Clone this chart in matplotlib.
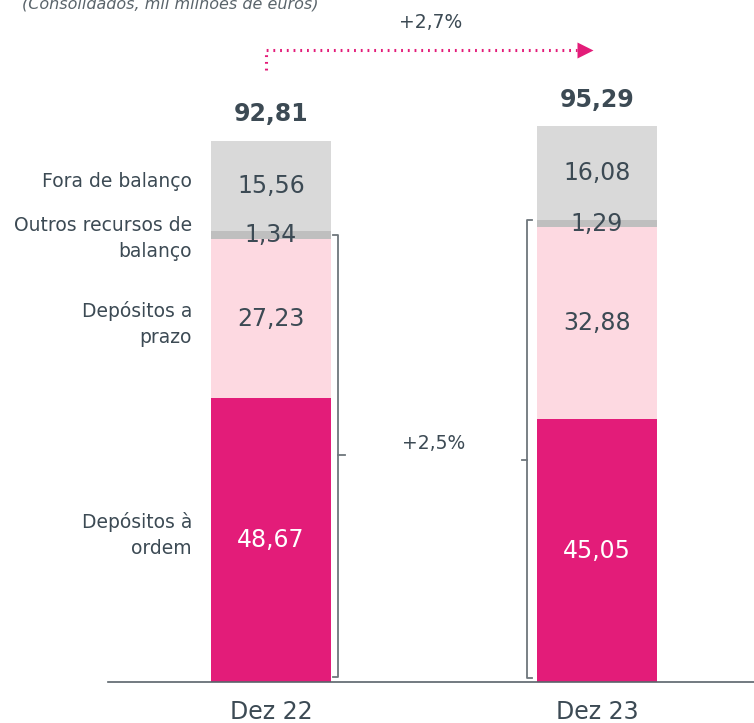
import matplotlib.pyplot as plt
import numpy as np

# data (mil milhões de euros)
periods = ['Dez 22', 'Dez 23']
dep_ordem = [48.67, 45.05]
dep_prazo = [27.23, 32.88]
outros = [1.34, 1.29]
fora = [15.56, 16.08]
totals = ['92,81', '95,29']
growth_total = '+2,7%'
growth_balanco = '+2,5%'

series = [
    ('Depósitos à\nordem', dep_ordem, '#E31C79', 'white'),
    ('Depósitos a\nprazo', dep_prazo, '#FDD9E1', '#3C4A54'),
    ('Outros recursos de\nbalanço', outros, '#BFBFBF', '#3C4A54'),
    ('Fora de balanço', fora, '#D9D9D9', '#3C4A54'),
]

txt = '#3C4A54'
W, H = 754, 723
fig = plt.figure(figsize=(W / 100, H / 100), dpi=100)
ax = fig.add_axes([108 / W, 41 / H, 646 / W, 682 / H])
ax.set_xlim(-0.5, 1 + 157 / 326)
ax.set_ylim(0, 682 / 5.835)
for s in ['top', 'right', 'left']:
    ax.spines[s].set_visible(False)
ax.spines['bottom'].set_color('#5A646B')
ax.spines['bottom'].set_linewidth(1.2)
ax.set_yticks([])
ax.set_xticks([])

x = np.arange(len(periods))
bw = 120 / 326
bottom = np.zeros(len(periods))
label_y = {}
for name, vals, col, tcol in series:
    vals = np.array(vals)
    ax.bar(x, vals, bw, bottom=bottom, color=col, edgecolor='none', zorder=2)
    for i, v in enumerate(vals):
        ax.text(x[i], bottom[i] + v / 2, f'{v:.2f}'.replace('.', ','),
                ha='center', va='center', fontsize=17, color=tcol, zorder=3)
    label_y[name] = bottom[0] + vals[0] / 2
    bottom = bottom + vals

# category labels on the left of the first bar
offs = {'Fora de balanço': 0.8, 'Outros recursos de\nbalanço': -0.5,
        'Depósitos a\nprazo': -0.9, 'Depósitos à\nordem': 0.9}
lx = x[0] - bw / 2 - 19 / 326
for name, vals, col, tcol in series:
    ax.text(lx, label_y[name] + offs[name], name, ha='right', va='center',
            fontsize=13.5, color=txt, linespacing=1.45, clip_on=False)

# totals
for i, t in enumerate(totals):
    ax.text(x[i], bottom[i] + 4.5, t, ha='center', va='center', fontsize=17,
            fontweight='bold', color=txt)

# x labels
for i, p in enumerate(periods):
    ax.text(x[i], -5.1, p, ha='center', va='center', fontsize=17, color=txt, clip_on=False)

# brackets (balance resources)
bc = '#6E767C'
b1_top = dep_ordem[0] + dep_prazo[0] + outros[0] / 2
b2_top = dep_ordem[1] + dep_prazo[1] + outros[1]
bx1 = x[0] + bw / 2 + 7 / 326
bx2 = x[1] - bw / 2 - 10 / 326
tk = 5 / 326
ax.plot([bx1 - tk, bx1, bx1, bx1 - tk], [b1_top, b1_top, 0.9, 0.9], color=bc, lw=1.3)
ax.plot([bx1, bx1 + tk * 1.3], [b1_top / 2 + 0.6, b1_top / 2 + 0.6], color=bc, lw=1.3)
ax.plot([bx2 + tk, bx2, bx2, bx2 + tk], [b2_top, b2_top, 0.6, 0.6], color=bc, lw=1.3)
ax.plot([bx2, bx2 - tk], [b2_top / 2 - 1.6, b2_top / 2 - 1.6], color=bc, lw=1.3)
ax.text(0.5, 40.8, growth_balanco, ha='center', va='center', fontsize=13.5, color=txt)

# dotted arrow on top
ay = 682 / 5.835 - 50 / 5.835
ax.plot([x[0] - 5 / 326, x[0] - 5 / 326, x[1] - 20 / 326], [ay - 3.4, ay, ay],
        color='#E31C79', lw=2.2, ls=(0, (0.6, 1.6)), clip_on=False)
ax.plot([x[1] - 12 / 326], [ay], marker='>', ms=12, color='#E31C79', mec='none',
        clip_on=False)
ax.text(0.49, ay + 4.7, growth_total, ha='center', va='center', fontsize=13.5, color=txt,
        clip_on=False)

fig.text(22 / W, 1 - 4 / H, '(Consolidados, mil milhões de euros)', ha='left',
         va='center', fontsize=11.5, style='italic', color='#5A646B')

fig.savefig('out.png', dpi=100)
